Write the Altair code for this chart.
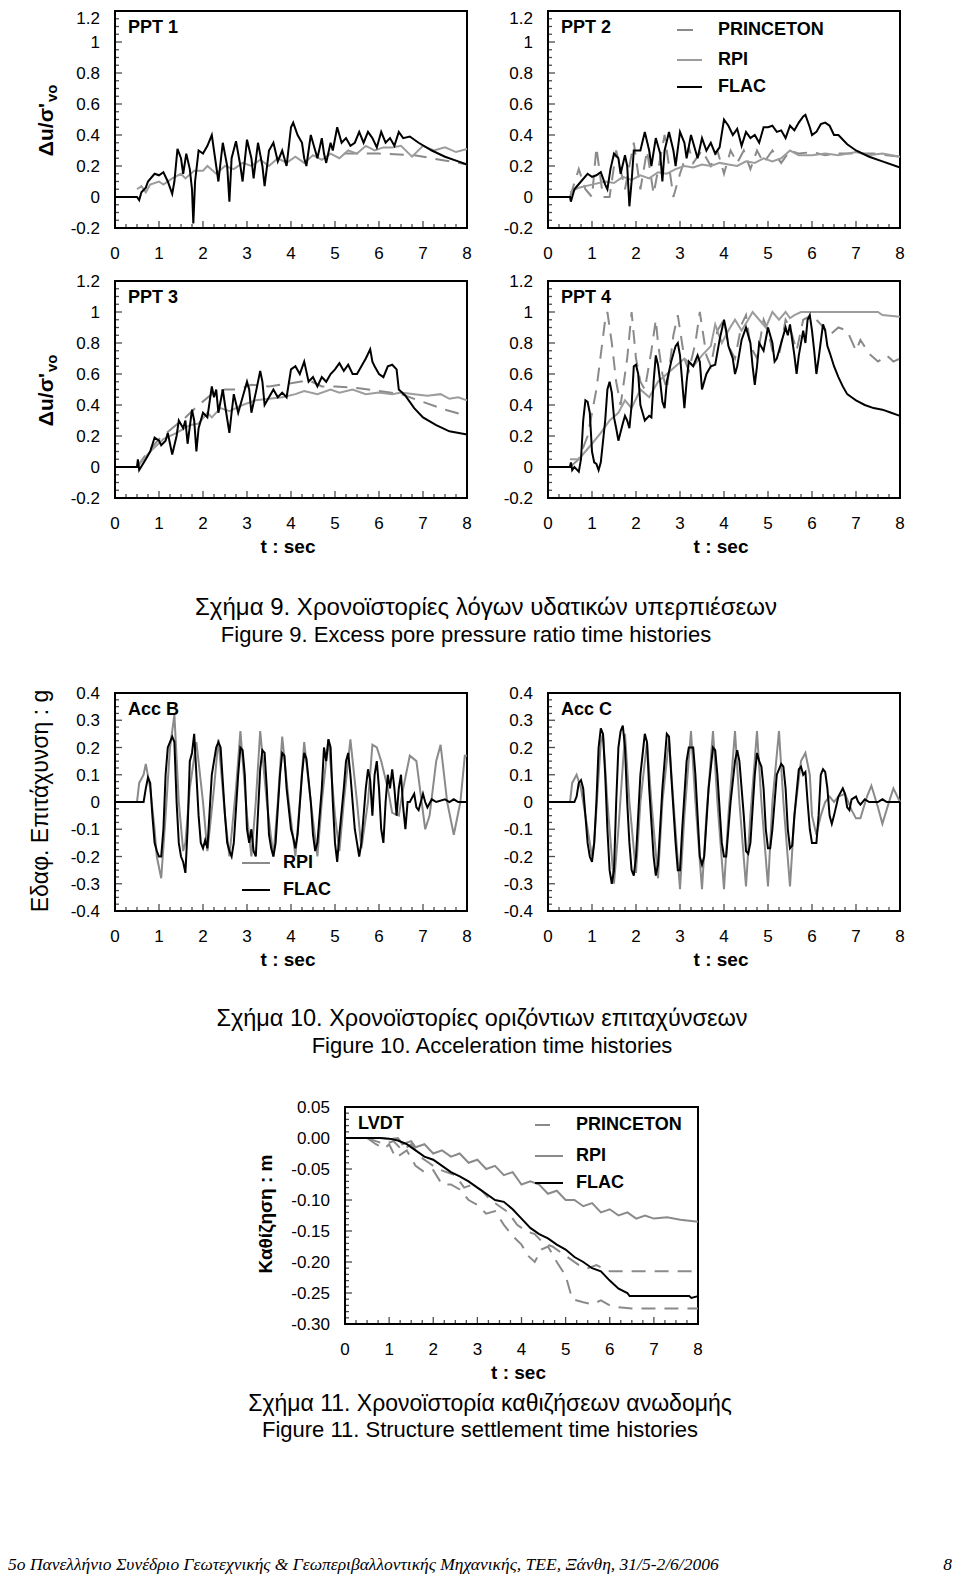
import altair as alt
import pandas as pd

# ---------------- data ----------------
T_MAJOR = [0, 1, 2, 3, 4, 5, 6, 7, 8]
T_LABELS = ["0", "1", "2", "3", "4", "5", "6", "7", "8"]
T_MINOR = [q / 4 for q in range(33) if q % 4]
PPT_Y_MAJOR = [-0.2, 0, 0.2, 0.4, 0.6, 0.8, 1, 1.2]
PPT_Y_LABELS = ["-0.2", "0", "0.2", "0.4", "0.6", "0.8", "1", "1.2"]
PPT_Y_MINOR = [round(-0.2 + 0.05 * i, 3) for i in range(29) if i % 4]
ACC_Y_MAJOR = [-0.4, -0.3, -0.2, -0.1, 0, 0.1, 0.2, 0.3, 0.4]
ACC_Y_LABELS = ["-0.4", "-0.3", "-0.2", "-0.1", "0", "0.1", "0.2", "0.3", "0.4"]
ACC_Y_MINOR = [round(-0.4 + 0.025 * i, 4) for i in range(33) if i % 4]
LVDT_Y_MAJOR = [-0.30, -0.25, -0.20, -0.15, -0.10, -0.05, 0.00, 0.05]
LVDT_Y_LABELS = ["-0.30", "-0.25", "-0.20", "-0.15", "-0.10", "-0.05", "0.00", "0.05"]
LVDT_Y_MINOR = [round(-0.30 + 0.01 * i, 3) for i in range(36) if i % 5]

PPT1_FLAC = [(0,0),(0.5,0),(0.55,-0.02),(0.6,0.03),(0.7,0.06),(0.75,0.1),(0.9,0.15),(1.0,0.14),(1.1,0.16),(1.2,0.1),(1.3,0.02),(1.35,0.1),(1.42,0.31),(1.5,0.25),(1.55,0.15),(1.62,0.28),(1.7,0.18),(1.75,0.05),(1.78,-0.17),(1.82,0.1),(1.9,0.3),(2.0,0.28),(2.1,0.33),(2.2,0.4),(2.3,0.2),(2.35,0.1),(2.45,0.35),(2.55,0.2),(2.6,-0.03),(2.65,0.25),(2.75,0.36),(2.85,0.2),(2.9,0.1),(3.0,0.37),(3.1,0.25),(3.15,0.12),(3.25,0.35),(3.35,0.2),(3.4,0.07),(3.5,0.3),(3.6,0.35),(3.7,0.23),(3.8,0.3),(3.9,0.2),(4.0,0.45),(4.05,0.48),(4.15,0.4),(4.25,0.35),(4.3,0.25),(4.35,0.2),(4.45,0.4),(4.55,0.3),(4.6,0.25),(4.7,0.38),(4.75,0.28),(4.8,0.22),(4.9,0.35),(4.95,0.3),(5.05,0.45),(5.15,0.35),(5.25,0.38),(5.35,0.33),(5.45,0.35),(5.55,0.42),(5.65,0.35),(5.75,0.42),(5.85,0.38),(5.95,0.32),(6.05,0.42),(6.15,0.35),(6.25,0.38),(6.35,0.33),(6.45,0.42),(6.55,0.38),(6.7,0.39),(6.9,0.35),(7.2,0.3),(7.5,0.26),(7.8,0.23),(8.0,0.21)]
PPT1_RPI = [(0.5,0.05),(0.6,0.07),(0.7,0.03),(0.8,0.08),(1.0,0.1),(1.1,0.08),(1.3,0.12),(1.5,0.15),(1.6,0.12),(1.8,0.17),(2.0,0.17),(2.1,0.2),(2.3,0.15),(2.5,0.2),(2.7,0.18),(2.9,0.22),(3.1,0.2),(3.3,0.24),(3.5,0.2),(3.7,0.25),(3.9,0.22),(4.1,0.26),(4.3,0.22),(4.5,0.27),(4.7,0.24),(4.9,0.28),(5.1,0.25),(5.3,0.3),(5.5,0.28),(5.7,0.33),(5.9,0.3),(6.1,0.32),(6.3,0.32),(6.5,0.33),(6.75,0.26),(7.0,0.33),(7.25,0.3),(7.5,0.32),(7.75,0.29),(8.0,0.31)]
PPT1_PRIN = [(5.2,0.28),(6.0,0.28),(6.8,0.27),(7.2,0.25),(7.6,0.23),(8.0,0.21)]

PPT2_FLAC = [(0,0),(0.5,0),(0.52,-0.03),(0.6,0.05),(0.75,0.1),(0.9,0.15),(1.0,0.13),(1.1,0.14),(1.2,0.16),(1.3,0.08),(1.35,0.05),(1.42,0.18),(1.5,0.28),(1.6,0.25),(1.65,0.15),(1.75,0.27),(1.8,0.2),(1.85,-0.06),(1.9,0.1),(1.95,0.3),(2.1,0.3),(2.2,0.42),(2.3,0.3),(2.35,0.2),(2.45,0.38),(2.55,0.28),(2.6,0.1),(2.65,0.3),(2.75,0.42),(2.85,0.3),(2.9,0.2),(3.0,0.42),(3.1,0.35),(3.15,0.25),(3.25,0.4),(3.35,0.3),(3.4,0.25),(3.5,0.38),(3.6,0.3),(3.7,0.35),(3.8,0.28),(3.9,0.32),(4.0,0.5),(4.1,0.46),(4.2,0.4),(4.3,0.44),(4.4,0.33),(4.5,0.42),(4.6,0.38),(4.7,0.4),(4.8,0.35),(4.9,0.45),(5.0,0.45),(5.1,0.46),(5.2,0.42),(5.3,0.43),(5.4,0.38),(5.5,0.46),(5.6,0.43),(5.7,0.48),(5.8,0.52),(5.85,0.53),(5.95,0.45),(6.0,0.4),(6.1,0.42),(6.2,0.47),(6.3,0.48),(6.4,0.46),(6.5,0.4),(6.6,0.4),(6.8,0.34),(7.0,0.3),(7.3,0.26),(7.6,0.23),(8.0,0.19)]
PPT2_RPI = [(0.5,0.03),(0.7,0.06),(1.0,0.08),(1.3,0.1),(1.5,0.09),(1.7,0.13),(1.9,0.11),(2.1,0.14),(2.3,0.12),(2.5,0.16),(2.7,0.15),(2.9,0.18),(3.1,0.2),(3.3,0.19),(3.5,0.21),(3.7,0.2),(3.9,0.22),(4.1,0.21),(4.3,0.2),(4.5,0.23),(4.7,0.22),(4.9,0.25),(5.1,0.23),(5.3,0.25),(5.5,0.3),(5.7,0.27),(6.0,0.27),(6.3,0.28),(6.6,0.27),(7.0,0.29),(7.3,0.27),(7.6,0.28),(8.0,0.26)]
PPT2_PRIN = [(0.5,0.0),(0.7,0.18),(0.85,0.05),(1.0,0.0),(1.1,0.32),(1.25,0.0),(1.4,0.0),(1.55,0.3),(1.75,0.05),(1.95,0.35),(2.1,0.05),(2.25,0.3),(2.4,0.02),(2.65,0.4),(2.85,0.0),(3.0,0.15),(3.2,0.32),(3.3,0.22),(3.5,0.3),(3.7,0.2),(3.85,0.3),(4.0,0.15),(4.15,0.3),(4.3,0.22),(4.45,0.3),(4.6,0.18),(4.75,0.3),(4.9,0.22),(5.1,0.3),(5.3,0.22),(5.5,0.3),(5.7,0.28),(6.0,0.29),(6.3,0.27),(6.6,0.28),(7.0,0.28),(7.4,0.28),(8.0,0.26)]

PPT3_FLAC = [(0,0),(0.5,0),(0.52,0.05),(0.55,-0.02),(0.7,0.05),(0.8,0.1),(0.9,0.19),(1.0,0.17),(1.05,0.14),(1.15,0.17),(1.2,0.22),(1.25,0.15),(1.3,0.08),(1.4,0.2),(1.45,0.3),(1.55,0.25),(1.6,0.3),(1.65,0.15),(1.75,0.37),(1.8,0.3),(1.85,0.1),(1.9,0.25),(2.0,0.35),(2.1,0.32),(2.2,0.52),(2.25,0.45),(2.3,0.5),(2.35,0.35),(2.45,0.5),(2.5,0.4),(2.6,0.22),(2.65,0.35),(2.7,0.47),(2.8,0.35),(2.9,0.45),(3.0,0.55),(3.05,0.5),(3.1,0.35),(3.2,0.48),(3.3,0.62),(3.35,0.55),(3.4,0.4),(3.5,0.45),(3.6,0.5),(3.7,0.45),(3.8,0.48),(3.9,0.45),(4.0,0.63),(4.1,0.65),(4.2,0.6),(4.3,0.68),(4.4,0.55),(4.5,0.58),(4.6,0.52),(4.7,0.58),(4.8,0.55),(4.9,0.6),(5.0,0.63),(5.1,0.67),(5.2,0.62),(5.3,0.66),(5.4,0.6),(5.5,0.6),(5.6,0.65),(5.7,0.7),(5.8,0.76),(5.85,0.68),(5.9,0.65),(6.0,0.6),(6.1,0.58),(6.2,0.65),(6.3,0.66),(6.4,0.63),(6.45,0.5),(6.6,0.46),(6.8,0.38),(7.0,0.32),(7.3,0.27),(7.6,0.23),(8.0,0.21)]
PPT3_RPI = [(0.5,0.0),(0.8,0.1),(1.1,0.18),(1.4,0.22),(1.7,0.27),(1.9,0.28),(2.1,0.35),(2.2,0.32),(2.4,0.38),(2.6,0.36),(2.9,0.4),(3.2,0.43),(3.5,0.44),(3.8,0.45),(4.1,0.47),(4.3,0.49),(4.6,0.47),(4.9,0.5),(5.1,0.48),(5.4,0.5),(5.7,0.47),(6.0,0.48),(6.3,0.47),(6.5,0.48),(6.8,0.47),(7.1,0.46),(7.4,0.47),(7.6,0.44),(7.8,0.45),(8.0,0.43)]
PPT3_PRIN = [(0.5,0.0),(0.7,0.08),(1.0,0.18),(1.3,0.25),(1.6,0.32),(1.9,0.4),(2.2,0.47),(2.5,0.5),(2.8,0.5),(3.1,0.53),(3.5,0.52),(4.0,0.54),(4.4,0.56),(4.7,0.52),(5.0,0.52),(5.5,0.51),(6.0,0.49),(6.5,0.47),(7.0,0.42),(7.5,0.37),(8.0,0.33)]

PPT4_FLAC = [(0,0),(0.5,0),(0.52,0.03),(0.55,-0.02),(0.6,0.0),(0.7,-0.03),(0.75,0.05),(0.8,0.3),(0.85,0.43),(0.9,0.42),(0.95,0.35),(1.0,0.1),(1.05,0.03),(1.1,0.02),(1.15,-0.02),(1.2,0.03),(1.3,0.3),(1.35,0.5),(1.4,0.55),(1.45,0.48),(1.5,0.32),(1.55,0.25),(1.6,0.17),(1.7,0.28),(1.75,0.33),(1.8,0.3),(1.85,0.25),(1.9,0.4),(1.95,0.65),(2.0,0.66),(2.05,0.6),(2.1,0.4),(2.15,0.35),(2.2,0.3),(2.3,0.33),(2.35,0.32),(2.4,0.55),(2.45,0.72),(2.5,0.66),(2.55,0.55),(2.6,0.42),(2.65,0.38),(2.7,0.55),(2.8,0.68),(2.9,0.78),(2.95,0.8),(3.0,0.72),(3.05,0.55),(3.1,0.38),(3.15,0.55),(3.2,0.68),(3.3,0.65),(3.4,0.72),(3.45,0.68),(3.5,0.5),(3.6,0.6),(3.7,0.65),(3.8,0.66),(3.9,0.82),(4.0,0.95),(4.05,0.88),(4.1,0.78),(4.2,0.7),(4.25,0.6),(4.3,0.65),(4.4,0.82),(4.5,0.9),(4.6,0.8),(4.65,0.65),(4.7,0.53),(4.75,0.65),(4.8,0.8),(4.9,0.75),(5.0,0.9),(5.1,0.8),(5.15,0.68),(5.2,0.7),(5.3,0.8),(5.4,0.9),(5.45,0.85),(5.5,0.92),(5.6,0.72),(5.65,0.6),(5.7,0.72),(5.8,0.88),(5.85,0.8),(5.9,0.95),(5.95,0.98),(6.0,0.88),(6.05,0.75),(6.1,0.6),(6.15,0.7),(6.25,0.92),(6.3,0.88),(6.35,0.78),(6.4,0.74),(6.5,0.65),(6.6,0.58),(6.7,0.52),(6.8,0.47),(6.9,0.45),(7.0,0.43),(7.2,0.4),(7.4,0.38),(7.6,0.37),(7.8,0.35),(8.0,0.33)]
PPT4_RPI = [(0.5,0.05),(0.7,0.05),(0.85,0.1),(1.0,0.15),(1.2,0.22),(1.4,0.3),(1.6,0.35),(1.75,0.43),(1.9,0.38),(2.1,0.5),(2.3,0.45),(2.5,0.55),(2.7,0.6),(2.9,0.65),(3.1,0.7),(3.3,0.65),(3.5,0.72),(3.7,0.78),(3.8,0.92),(3.95,0.8),(4.1,0.88),(4.25,0.95),(4.4,0.88),(4.55,0.95),(4.65,1.0),(4.8,0.95),(4.95,0.9),(5.1,1.0),(5.25,0.95),(5.4,1.0),(5.5,0.96),(5.6,0.98),(5.75,1.0),(6.0,1.0),(7.5,1.0),(7.6,0.98),(8.0,0.97)]
PPT4_PRIN = [(0.5,0.0),(0.7,0.05),(0.9,0.2),(1.1,0.5),(1.3,0.95),(1.35,1.0),(1.45,0.8),(1.55,0.55),(1.65,0.4),(1.7,0.5),(1.8,0.7),(1.9,1.0),(2.0,0.7),(2.1,0.55),(2.2,0.5),(2.35,0.75),(2.45,0.95),(2.5,0.8),(2.6,0.6),(2.7,0.5),(2.85,0.85),(2.95,0.98),(3.1,0.7),(3.2,0.62),(3.35,0.8),(3.45,1.0),(3.6,0.72),(3.7,0.65),(3.85,0.88),(4.0,0.95),(4.1,0.78),(4.25,0.7),(4.4,0.92),(4.5,0.98),(4.6,0.78),(4.75,0.7),(4.9,0.95),(5.0,0.88),(5.1,0.75),(5.25,0.72),(5.4,0.95),(5.5,0.9),(5.65,0.75),(5.8,0.95),(6.0,0.98),(6.2,0.92),(6.4,0.85),(6.6,0.9),(6.8,0.88),(7.0,0.75),(7.1,0.82),(7.3,0.73),(7.5,0.68),(7.7,0.72),(7.85,0.68),(8.0,0.7)]

ACCB_FLAC = [(0,0),(0.6,0),(0.65,0.0),(0.7,0.05),(0.75,0.09),(0.8,0.07),(0.85,-0.05),(0.9,-0.15),(0.95,-0.18),(1.0,-0.2),(1.05,-0.2),(1.1,-0.1),(1.15,0.1),(1.2,0.2),(1.25,0.22),(1.3,0.24),(1.35,0.22),(1.4,0.0),(1.45,-0.15),(1.5,-0.2),(1.55,-0.22),(1.6,-0.26),(1.65,-0.1),(1.7,0.15),(1.75,0.18),(1.8,0.25),(1.85,0.1),(1.9,-0.05),(1.95,-0.15),(2.0,-0.17),(2.05,-0.14),(2.1,-0.17),(2.2,0.1),(2.3,0.2),(2.35,0.22),(2.4,0.2),(2.5,-0.05),(2.55,-0.15),(2.6,-0.18),(2.65,-0.2),(2.7,-0.15),(2.8,0.1),(2.85,0.2),(2.9,0.19),(2.95,0.1),(3.0,-0.1),(3.05,-0.15),(3.1,-0.1),(3.15,-0.18),(3.2,-0.2),(3.3,0.12),(3.35,0.19),(3.4,0.18),(3.45,0.05),(3.5,-0.12),(3.55,-0.17),(3.6,-0.2),(3.65,-0.15),(3.75,0.1),(3.8,0.18),(3.85,0.17),(3.9,0.05),(4.0,-0.1),(4.05,-0.13),(4.1,-0.17),(4.15,-0.12),(4.25,0.1),(4.3,0.18),(4.35,0.16),(4.45,0.0),(4.5,-0.12),(4.55,-0.18),(4.6,-0.15),(4.7,0.05),(4.75,0.2),(4.8,0.15),(4.85,0.23),(4.9,0.2),(4.95,0.0),(5.0,-0.15),(5.05,-0.22),(5.1,-0.12),(5.2,0.05),(5.25,0.15),(5.3,0.18),(5.35,0.1),(5.45,-0.1),(5.5,-0.15),(5.55,-0.2),(5.6,-0.15),(5.7,0.05),(5.75,0.12),(5.8,0.08),(5.85,-0.05),(5.9,0.1),(5.95,0.15),(6.0,0.05),(6.05,-0.1),(6.1,-0.15),(6.15,0.0),(6.2,0.1),(6.25,0.05),(6.3,0.12),(6.35,0.05),(6.4,-0.05),(6.45,0.05),(6.5,0.1),(6.55,-0.02),(6.6,-0.1),(6.65,0.0),(6.7,0.0),(6.8,0.03),(6.85,-0.02),(6.9,-0.03),(7.0,0.03),(7.05,0.0),(7.1,-0.02),(7.2,0.01),(7.3,0.0),(7.5,0.01),(7.6,0.0),(7.7,0.01),(7.8,0.0),(8.0,0.0)]
ACCB_RPI = [(0.5,0.0),(0.55,0.07),(0.65,0.1),(0.7,0.14),(0.8,0.05),(0.9,-0.1),(0.95,-0.2),(1.05,-0.28),(1.15,-0.05),(1.25,0.2),(1.35,0.32),(1.45,0.0),(1.55,-0.18),(1.6,-0.15),(1.7,0.05),(1.85,0.22),(2.0,0.0),(2.1,-0.18),(2.25,0.05),(2.35,0.23),(2.5,-0.05),(2.6,-0.2),(2.75,0.05),(2.85,0.26),(3.0,-0.05),(3.1,-0.2),(3.2,0.0),(3.3,0.26),(3.45,0.0),(3.6,-0.2),(3.7,0.0),(3.8,0.24),(3.95,0.0),(4.1,-0.2),(4.2,0.0),(4.3,0.22),(4.45,0.0),(4.6,-0.2),(4.7,0.0),(4.85,0.23),(5.0,-0.05),(5.1,-0.18),(5.2,0.0),(5.35,0.23),(5.5,0.0),(5.6,-0.17),(5.75,0.0),(5.85,0.21),(5.95,0.2),(6.05,0.15),(6.2,0.05),(6.3,-0.04),(6.45,-0.05),(6.55,0.05),(6.7,0.17),(6.85,0.15),(7.05,-0.1),(7.15,-0.05),(7.3,0.15),(7.4,0.21),(7.55,0.0),(7.7,-0.12),(7.85,0.0),(7.95,0.17),(8.0,0.17)]

ACCC_FLAC = [(0,0),(0.6,0),(0.65,0.02),(0.7,0.07),(0.75,0.08),(0.8,0.05),(0.85,-0.05),(0.9,-0.15),(0.95,-0.2),(1.0,-0.22),(1.05,-0.15),(1.1,0.0),(1.15,0.2),(1.2,0.27),(1.25,0.25),(1.3,0.1),(1.35,-0.1),(1.4,-0.25),(1.45,-0.3),(1.5,-0.25),(1.55,0.0),(1.6,0.2),(1.65,0.26),(1.7,0.28),(1.75,0.2),(1.8,0.0),(1.85,-0.15),(1.9,-0.25),(1.95,-0.27),(2.0,-0.2),(2.1,0.1),(2.2,0.25),(2.25,0.22),(2.3,0.05),(2.4,-0.2),(2.45,-0.27),(2.5,-0.23),(2.6,0.05),(2.7,0.25),(2.75,0.24),(2.8,0.1),(2.9,-0.15),(2.95,-0.25),(3.0,-0.25),(3.05,-0.1),(3.15,0.15),(3.2,0.2),(3.3,0.2),(3.35,0.1),(3.45,-0.2),(3.5,-0.23),(3.55,-0.2),(3.65,0.05),(3.75,0.2),(3.8,0.19),(3.85,0.1),(3.95,-0.15),(4.0,-0.2),(4.05,-0.2),(4.15,0.0),(4.25,0.15),(4.3,0.19),(4.35,0.15),(4.45,-0.05),(4.5,-0.18),(4.55,-0.19),(4.6,-0.15),(4.7,0.1),(4.75,0.18),(4.8,0.15),(4.85,0.13),(4.9,0.05),(4.95,-0.1),(5.0,-0.17),(5.05,-0.17),(5.1,-0.1),(5.2,0.1),(5.3,0.14),(5.35,0.13),(5.4,0.05),(5.45,-0.1),(5.5,-0.17),(5.55,-0.16),(5.6,-0.05),(5.7,0.12),(5.75,0.13),(5.8,0.1),(5.85,0.11),(5.9,0.0),(5.95,-0.1),(6.0,-0.15),(6.1,-0.15),(6.15,-0.05),(6.2,0.1),(6.25,0.12),(6.3,0.11),(6.35,0.05),(6.4,-0.05),(6.45,-0.08),(6.5,-0.05),(6.6,0.02),(6.7,0.05),(6.75,0.03),(6.8,-0.02),(6.85,-0.03),(6.9,0.01),(7.0,0.02),(7.05,0.0),(7.1,-0.01),(7.2,0.01),(7.3,0.0),(7.5,0.0),(7.6,0.01),(7.7,0.0),(8.0,0.0)]
ACCC_RPI = [(0.5,0.0),(0.55,0.07),(0.65,0.1),(0.75,0.05),(0.85,-0.05),(1.0,-0.2),(1.05,-0.15),(1.2,0.22),(1.25,0.25),(1.35,0.0),(1.5,-0.3),(1.6,-0.1),(1.75,0.25),(1.85,0.0),(2.0,-0.26),(2.1,0.0),(2.25,0.22),(2.35,0.0),(2.5,-0.28),(2.6,0.0),(2.75,0.23),(2.85,0.0),(3.0,-0.32),(3.1,-0.05),(3.25,0.26),(3.35,0.0),(3.5,-0.32),(3.6,-0.05),(3.75,0.26),(3.85,0.0),(4.0,-0.32),(4.1,-0.05),(4.25,0.26),(4.35,0.0),(4.5,-0.31),(4.6,-0.05),(4.75,0.26),(4.85,0.0),(5.0,-0.31),(5.1,0.0),(5.25,0.26),(5.35,0.0),(5.5,-0.31),(5.6,-0.05),(5.75,0.15),(5.85,0.18),(5.95,0.1),(6.0,-0.05),(6.1,-0.12),(6.2,-0.05),(6.3,0.0),(6.4,0.02),(6.5,0.0),(6.6,0.02),(6.75,0.03),(6.9,-0.03),(7.0,-0.06),(7.1,-0.06),(7.25,0.02),(7.35,0.06),(7.5,-0.02),(7.6,-0.08),(7.75,0.0),(7.85,0.05),(8.0,0.0)]

LVDT_FLAC = [(0,0),(0.8,0),(1.0,-0.001),(1.2,-0.004),(1.4,-0.01),(1.6,-0.02),(1.8,-0.03),(2.0,-0.035),(2.2,-0.045),(2.4,-0.055),(2.6,-0.062),(2.8,-0.07),(3.0,-0.08),(3.2,-0.09),(3.4,-0.1),(3.6,-0.103),(3.8,-0.115),(4.0,-0.13),(4.2,-0.145),(4.4,-0.155),(4.6,-0.162),(4.8,-0.172),(5.0,-0.18),(5.2,-0.192),(5.4,-0.2),(5.6,-0.21),(5.8,-0.215),(6.0,-0.23),(6.2,-0.243),(6.4,-0.25),(6.45,-0.255),(7.0,-0.255),(7.5,-0.255),(7.8,-0.255),(7.85,-0.258),(8.0,-0.255)]
LVDT_RPI = [(0.5,0.0),(0.8,0.0),(1.0,-0.002),(1.2,0.0),(1.3,-0.01),(1.5,-0.005),(1.6,-0.015),(1.8,-0.01),(2.0,-0.025),(2.2,-0.02),(2.4,-0.03),(2.6,-0.025),(2.8,-0.04),(3.0,-0.035),(3.2,-0.05),(3.4,-0.045),(3.6,-0.06),(3.8,-0.055),(4.0,-0.075),(4.2,-0.07),(4.4,-0.075),(4.6,-0.09),(4.8,-0.085),(5.0,-0.1),(5.2,-0.1),(5.4,-0.11),(5.6,-0.105),(5.8,-0.12),(6.0,-0.115),(6.2,-0.125),(6.4,-0.12),(6.6,-0.13),(6.8,-0.125),(7.0,-0.13),(7.3,-0.128),(7.6,-0.132),(8.0,-0.135)]
LVDT_PRIN_A = [(0.5,0.0),(0.7,-0.005),(0.9,-0.01),(1.1,-0.005),(1.3,-0.02),(1.5,-0.01),(1.7,-0.03),(1.9,-0.04),(2.1,-0.05),(2.3,-0.055),(2.5,-0.06),(2.7,-0.08),(2.9,-0.075),(3.1,-0.085),(3.3,-0.1),(3.5,-0.11),(3.7,-0.12),(3.9,-0.14),(4.1,-0.15),(4.3,-0.155),(4.5,-0.17),(4.7,-0.175),(4.9,-0.185),(5.1,-0.195),(5.3,-0.205),(5.5,-0.21),(5.7,-0.205),(5.9,-0.212),(6.0,-0.215),(8.0,-0.215)]
LVDT_PRIN_B = [(0.5,0.0),(0.7,-0.01),(0.9,-0.017),(1.0,-0.01),(1.15,-0.032),(1.4,-0.02),(1.6,-0.045),(1.8,-0.055),(2.0,-0.052),(2.2,-0.075),(2.4,-0.075),(2.6,-0.083),(2.8,-0.1),(3.0,-0.108),(3.2,-0.122),(3.4,-0.118),(3.6,-0.14),(3.8,-0.158),(4.0,-0.172),(4.15,-0.19),(4.3,-0.2),(4.45,-0.18),(4.6,-0.175),(4.8,-0.2),(5.0,-0.222),(5.15,-0.26),(5.4,-0.265),(5.6,-0.268),(5.8,-0.262),(6.0,-0.27),(6.2,-0.273),(6.5,-0.275),(8.0,-0.275)]

PANEL_LABELS = ["PPT 1", "PPT 2", "PPT 3", "PPT 4", "Acc B", "Acc C", "LVDT"]
LEGEND_NAMES = ["PRINCETON", "RPI", "FLAC"]
PPT_YTITLE = ["Δu/σ'", "vo"]
ACC_YTITLE = "Εδαφ. Επιτάχυνση : g"
LVDT_YTITLE = "Καθίζηση : m"
XTITLE = "t : sec"
CAPTIONS = [
    "Σχήμα 9. Χρονοϊστορίες λόγων υδατικών υπερπιέσεων",
    "Figure 9. Excess pore pressure ratio time histories",
    "Σχήμα 10. Χρονοϊστορίες οριζόντιων επιταχύνσεων",
    "Figure 10. Acceleration time histories",
    "Σχήμα 11. Χρονοϊστορία καθιζήσεων ανωδομής",
    "Figure 11. Structure settlement time histories",
]
FOOTER = "5ο Πανελλήνιο Συνέδριο Γεωτεχνικής & Γεωπεριβαλλοντικής Μηχανικής, ΤΕΕ, Ξάνθη, 31/5-2/6/2006"
PAGE_NO = "8"

# ---------------- layout / style ----------------
W, H = 944, 1566
SANS = "Liberation Sans"
SERIF = "Liberation Serif"
C_FLAC = "#000000"
C_RPI = "#9c9c9c"
C_RPI_ACC = "#8a8a8a"
C_PRIN = "#8a8a8a"
DASH = [14, 9]

ONE = pd.DataFrame({"k": [0]})


def panel(geo, ydom, ymaj, ylab, ymin, series):
    xs = alt.Scale(domain=[0, 8], range=[geo["L"], geo["R"]], nice=False, zero=False)
    ys = alt.Scale(domain=ydom, range=[geo["B"], geo["T"]], nice=False, zero=False)
    X0 = alt.X(datum=0, type="quantitative", scale=xs, axis=None)
    Y0 = alt.Y(datum=ydom[0], type="quantitative", scale=ys, axis=None)
    layers = []
    frame = alt.Chart(ONE).mark_rect(fillOpacity=0, stroke="black", strokeWidth=2).encode(
        x=X0, x2=alt.X2(datum=8), y=Y0, y2=alt.Y2(datum=ydom[1]))
    layers.append(frame)

    def xt(vals, size):
        return alt.Chart(pd.DataFrame({"t": vals})).mark_tick(
            orient="vertical", size=size, thickness=1.3, yOffset=-size / 2, color="black"
        ).encode(x=alt.X("t:Q", scale=xs, axis=None), y=Y0)

    def yt(vals, size):
        return alt.Chart(pd.DataFrame({"v": vals})).mark_tick(
            orient="horizontal", size=size, thickness=1.3, xOffset=size / 2, color="black"
        ).encode(x=X0, y=alt.Y("v:Q", scale=ys, axis=None))

    layers += [xt(T_MAJOR, 7), xt(T_MINOR, 4), yt(ymaj, 7), yt(ymin, 4)]
    # tick labels (drawn through the scales)
    layers.append(
        alt.Chart(pd.DataFrame({"t": T_MAJOR, "lab": T_LABELS})).mark_text(
            font=SANS, fontSize=17, align="center", baseline="alphabetic", dy=31, color="black"
        ).encode(x=alt.X("t:Q", scale=xs, axis=None), y=Y0, text="lab:N"))
    # keep the topmost label inside the page when the panel touches the top edge
    n_body = len(ymaj) - 1 if geo["T"] < 10 else len(ymaj)
    layers.append(
        alt.Chart(pd.DataFrame({"v": ymaj[:n_body], "lab": ylab[:n_body]})).mark_text(
            font=SANS, fontSize=17, align="right", baseline="middle", dx=-15, dy=1, color="black"
        ).encode(x=X0, y=alt.Y("v:Q", scale=ys, axis=None), text="lab:N"))
    if n_body < len(ymaj):
        layers.append(
            alt.Chart(pd.DataFrame({"v": ymaj[n_body:], "lab": ylab[n_body:]})).mark_text(
                font=SANS, fontSize=17, align="right", baseline="middle", dx=-15, dy=8,
                color="black"
            ).encode(x=X0, y=alt.Y("v:Q", scale=ys, axis=None), text="lab:N"))
    for data, color, width, dash in series:
        props = dict(color=color, strokeWidth=width)
        if dash:
            props["strokeDash"] = dash
        layers.append(
            alt.Chart(pd.DataFrame(data, columns=["t", "v"])).mark_line(**props).encode(
                x=alt.X("t:Q", scale=xs, axis=None),
                y=alt.Y("v:Q", scale=ys, axis=None),
            )
        )
    return alt.layer(*layers)


def txt(s, x, y, size, bold=False, angle=0, align="left", baseline="middle",
        font=SANS, italic=False):
    props = dict(font=font, fontSize=size, align=align, baseline=baseline, color="black")
    if bold:
        props["fontWeight"] = "bold"
    if angle:
        props["angle"] = angle
    if italic:
        props["fontStyle"] = "italic"
    return alt.Chart(pd.DataFrame({"s": [s]})).mark_text(**props).encode(
        x=alt.value(x), y=alt.value(y), text="s:N")


def seg(x1, x2, y, color, dash=None):
    props = dict(color=color, strokeWidth=2)
    if dash:
        props["strokeDash"] = dash
    return alt.Chart(ONE).mark_rule(**props).encode(
        x=alt.value(x1), x2=alt.value(x2), y=alt.value(y))


G = {
    "PPT1": dict(L=107, R=459, T=3, B=220),
    "PPT2": dict(L=540, R=892, T=3, B=220),
    "PPT3": dict(L=107, R=459, T=273, B=490),
    "PPT4": dict(L=540, R=892, T=273, B=490),
    "ACCB": dict(L=107, R=459, T=685, B=903),
    "ACCC": dict(L=540, R=892, T=685, B=903),
    "LVDT": dict(L=337, R=690, T=1099, B=1316),
}

panels = [
    panel(G["PPT1"], [-0.2, 1.2], PPT_Y_MAJOR, PPT_Y_LABELS, PPT_Y_MINOR,
          [(PPT1_PRIN, C_PRIN, 2, DASH), (PPT1_RPI, C_RPI, 2, None), (PPT1_FLAC, C_FLAC, 2, None)]),
    panel(G["PPT2"], [-0.2, 1.2], PPT_Y_MAJOR, PPT_Y_LABELS, PPT_Y_MINOR,
          [(PPT2_PRIN, C_PRIN, 2, DASH), (PPT2_RPI, C_RPI, 2, None), (PPT2_FLAC, C_FLAC, 2, None)]),
    panel(G["PPT3"], [-0.2, 1.2], PPT_Y_MAJOR, PPT_Y_LABELS, PPT_Y_MINOR,
          [(PPT3_PRIN, C_PRIN, 2, DASH), (PPT3_RPI, C_RPI, 2, None), (PPT3_FLAC, C_FLAC, 2, None)]),
    panel(G["PPT4"], [-0.2, 1.2], PPT_Y_MAJOR, PPT_Y_LABELS, PPT_Y_MINOR,
          [(PPT4_PRIN, C_PRIN, 2, DASH), (PPT4_RPI, C_RPI, 2, None), (PPT4_FLAC, C_FLAC, 2, None)]),
    panel(G["ACCB"], [-0.4, 0.4], ACC_Y_MAJOR, ACC_Y_LABELS, ACC_Y_MINOR,
          [(ACCB_RPI, C_RPI_ACC, 2, None), (ACCB_FLAC, C_FLAC, 2, None)]),
    panel(G["ACCC"], [-0.4, 0.4], ACC_Y_MAJOR, ACC_Y_LABELS, ACC_Y_MINOR,
          [(ACCC_RPI, C_RPI_ACC, 2, None), (ACCC_FLAC, C_FLAC, 2, None)]),
    panel(G["LVDT"], [-0.3, 0.05], LVDT_Y_MAJOR, LVDT_Y_LABELS, LVDT_Y_MINOR,
          [(LVDT_PRIN_A, C_PRIN, 2, DASH), (LVDT_PRIN_B, C_PRIN, 2, DASH),
           (LVDT_RPI, C_RPI_ACC, 2, None), (LVDT_FLAC, C_FLAC, 2, None)]),
]

ann = []
# panel labels
for name, key in zip(PANEL_LABELS, ["PPT1", "PPT2", "PPT3", "PPT4", "ACCB", "ACCC", "LVDT"]):
    g = G[key]
    ann.append(txt(name, g["L"] + 13, g["T"] + 17, 18, bold=True))
# y titles
for key in ["PPT1", "PPT3"]:
    g = G[key]
    ann.append(txt(PPT_YTITLE[0], 45, g["T"] + 92, 21, bold=True, angle=270,
                   align="right", baseline="alphabetic"))
    ann.append(txt(PPT_YTITLE[1], 49, g["T"] + 91, 15, bold=True, angle=270,
                   align="left", baseline="alphabetic"))
ann.append(txt(ACC_YTITLE, 40, 793, 23, angle=270, align="center", baseline="alphabetic"))
ann.append(txt(LVDT_YTITLE, 264, 1206, 19, bold=True, angle=270, align="center",
               baseline="alphabetic"))
# x titles
for key in ["PPT3", "PPT4", "ACCB", "ACCC", "LVDT"]:
    g = G[key]
    ann.append(txt(XTITLE, (g["L"] + g["R"]) / 2 - 3, g["B"] + 55, 19, bold=True,
                   align="center", baseline="alphabetic"))


# legends
def legend(x0, ys, names, styles):
    out = []
    for y, n, st in zip(ys, names, styles):
        color, dash, length = st
        out.append(seg(x0, x0 + length, y, color, dash))
        out.append(txt(n, x0 + 41, y, 18, bold=True))
    return out


ann += legend(669, [22, 52, 79], LEGEND_NAMES,
              [(C_PRIN, None, 16), (C_RPI, None, 25), (C_FLAC, None, 25)])
ann += legend(527, [1117, 1148, 1175], LEGEND_NAMES,
              [(C_PRIN, None, 15), (C_RPI_ACC, None, 28), (C_FLAC, None, 28)])
ann += legend(234, [855, 882], LEGEND_NAMES[1:],
              [(C_RPI_ACC, None, 28), (C_FLAC, None, 28)])
# captions (centred)
cap_pos = [(478, 600, 24), (458, 627, 22), (474, 1011, 23.5), (484, 1038, 22),
           (482, 1396, 23), (472, 1422, 22)]
for c, (x, y, fs) in zip(CAPTIONS, cap_pos):
    ann.append(txt(c, x, y, fs, align="center"))
ann.append(txt(FOOTER, 0, 1557, 17.5, font=SERIF, italic=True))
ann.append(txt(PAGE_NO, 944, 1557, 17.5, font=SERIF, italic=True, align="right"))

chart = alt.layer(*panels, *ann).resolve_scale(
    x="independent", y="independent"
).properties(
    width=W, height=H, autosize=alt.AutoSizeParams(type="none"), padding=0
).configure_view(strokeWidth=0)

chart.save("out.html", embed_options={"renderer": "svg", "actions": False})
